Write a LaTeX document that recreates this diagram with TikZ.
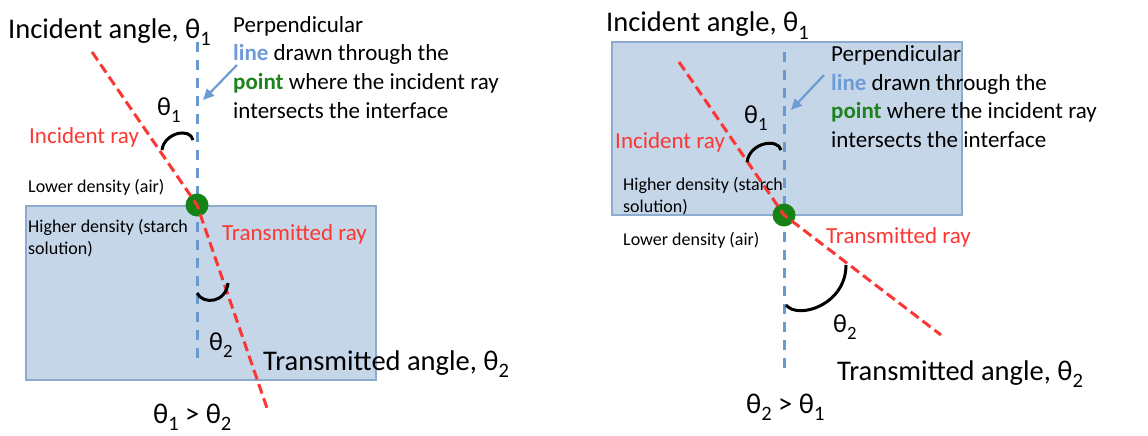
\documentclass[tikz,border=0pt]{standalone}
\usepackage{fontspec}
\setmainfont{Carlito}
\usetikzlibrary{arrows.meta}
\definecolor{boxfill}{RGB}{198,214,233}
\definecolor{boxedge}{RGB}{143,170,207}
\definecolor{rayred}{RGB}{250,55,50}
\definecolor{perpblue}{RGB}{108,153,205}
\definecolor{dotgreen}{RGB}{20,130,20}
\definecolor{arrowblue}{RGB}{110,155,210}
\definecolor{wordblue}{RGB}{110,155,215}
\definecolor{wordgreen}{RGB}{30,130,30}
\newcommand\lsub[1]{\raisebox{-0.28em}{\scalebox{0.72}{#1}}}
\begin{document}
\begin{tikzpicture}[x=1pt,y=-1pt,
  big/.style={font=\fontsize{28.5}{34}\selectfont, inner sep=0, anchor=base west},
  lab/.style={font=\fontsize{26}{30}\selectfont, inner sep=0, anchor=base west},
  mid/.style={font=\fontsize{23}{29}\selectfont, inner sep=0, anchor=base west},
  small/.style={font=\fontsize{18}{22}\selectfont, inner sep=0, anchor=base west},
  redlbl/.style={mid, text=rayred},
  box/.style={draw=boxedge, line width=1.8pt, fill=boxfill},
  ray/.style={rayred, line width=3pt, dash pattern=on 10pt off 5pt},
  perp/.style={perpblue, line width=3pt, dash pattern=on 10pt off 8pt},
  dotst/.style={circle, fill=dotgreen, minimum size=23pt, inner sep=0},
  anglearc/.style={black, line width=3pt},
  pointer/.style={arrowblue, line width=2.2pt, -{Triangle[length=11pt,width=10pt]}}
]
\useasboundingbox (0,0) rectangle (1148,436);

% ---------------- left panel ----------------
\draw[box] (26,206) rectangle (376,380);
\coordinate (Lptop) at (197,42);
\coordinate (Lpbot) at (197,365);
\draw[perp] (Lptop) -- (Lpbot);
\node[dotst] (Ldot) at (197,205) {};
\coordinate (Linc) at (92,52);
\coordinate (Ltr) at (267,408);
\draw[ray] (Linc) -- (Ldot.center) -- (Ltr);
\draw[anglearc] (162,150) .. controls (164,133) and (190,127) .. (193,140);
\draw[anglearc] (197,293) .. controls (203,305) and (226,303) .. (228,283);
\coordinate (Larrs) at (237,65);
\coordinate (Larre) at (203,100);
\draw[pointer] (Larrs) -- (Larre);

\node[big] (Ltitle) at (8,38) {Incident angle, θ\lsub{1}};
\node[mid] (Lp1) at (233,33) {Perpendicular};
\node[mid] (Lp2) at (233,61) {\textcolor{wordblue}{\textbf{line}} drawn through the};
\node[mid] (Lp3) at (233,89) {\textcolor{wordgreen}{\textbf{point}} where the incident ray};
\node[mid] (Lp4) at (233,118) {intersects the interface};
\node[redlbl] (Lincl) at (29,143) {Incident ray};
\node[lab] (Lth1) at (157,115) {θ\lsub{1}};
\node[small] (Llow) at (28,192) {Lower density (air)};
\node[small] (Lhi1) at (28,232) {Higher density (starch};
\node[small] (Lhi2) at (28,254) {solution)};
\node[redlbl] (Ltrl) at (222,240) {Transmitted ray};
\node[lab] (Lth2) at (209,350) {θ\lsub{2}};
\node[big] (Ltang) at (263,370) {Transmitted angle, θ\lsub{2}};
\node[big] (Lcmp) at (153,423) {θ\lsub{1} > θ\lsub{2}};

% ---------------- right panel ----------------
\draw[box] (612,42) rectangle (962,215);
\coordinate (Rptop) at (784,52);
\coordinate (Rpbot) at (784,373);
\draw[perp] (Rptop) -- (Rpbot);
\node[dotst] (Rdot) at (784,215) {};
\coordinate (Rinc) at (679,62);
\coordinate (Rtr) at (941,335);
\draw[ray] (Rinc) -- (Rdot.center) -- (Rtr);
\draw[anglearc] (747,162) .. controls (750,142) and (778,138) .. (781,150);
\draw[anglearc] (786,305) .. controls (798,320) and (846,305) .. (846,265);
\coordinate (Rarrs) at (824,75);
\coordinate (Rarre) at (791,110);
\draw[pointer] (Rarrs) -- (Rarre);

\node[big] (Rtitle) at (606,32) {Incident angle, θ\lsub{1}};
\node[mid] (Rp1) at (831,62) {Perpendicular};
\node[mid] (Rp2) at (831,90) {\textcolor{wordblue}{\textbf{line}} drawn through the};
\node[mid] (Rp3) at (831,118) {\textcolor{wordgreen}{\textbf{point}} where the incident ray};
\node[mid] (Rp4) at (831,147) {intersects the interface};
\node[redlbl] (Rincl) at (615,148) {Incident ray};
\node[lab] (Rth1) at (744,123) {θ\lsub{1}};
\node[small] (Rhi1) at (623,190) {Higher density (starch};
\node[small] (Rhi2) at (623,212) {solution)};
\node[small] (Rlow) at (623,245) {Lower density (air)};
\node[redlbl] (Rtrl) at (826,243) {Transmitted ray};
\node[lab] (Rth2) at (833,332) {θ\lsub{2}};
\node[big] (Rtang) at (837,380) {Transmitted angle, θ\lsub{2}};
\node[big] (Rcmp) at (746,413) {θ\lsub{2} > θ\lsub{1}};
\end{tikzpicture}
\end{document}
